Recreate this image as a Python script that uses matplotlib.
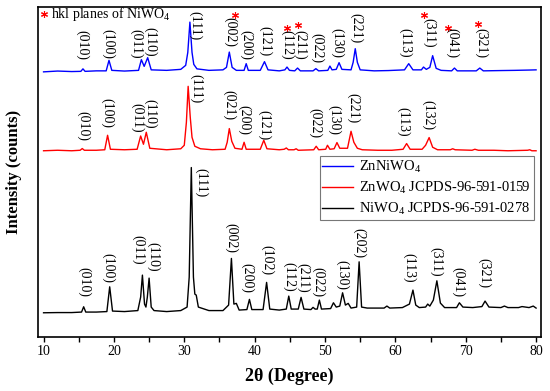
import matplotlib
matplotlib.use('Agg')
import matplotlib.pyplot as plt
from matplotlib.ticker import MultipleLocator

plt.rcParams['font.family'] = ['Liberation Serif', 'DejaVu Serif']
plt.rcParams['mathtext.fontset'] = 'custom'
plt.rcParams['mathtext.rm'] = 'Liberation Serif'
plt.rcParams['mathtext.it'] = 'Liberation Serif:italic'
plt.rcParams['mathtext.bf'] = 'Liberation Serif:bold'

# traced patterns (2theta in degree, intensity in arbitrary stacked units)
blue_x = [10.0, 12.0, 14.0, 15.3, 15.6, 15.9, 17.5, 18.9, 19.3, 19.7, 21.5, 23.5, 23.9, 24.3, 24.8, 25.3,
          27.5, 29.5, 30.2, 30.5, 30.8, 31.1, 31.35, 31.8, 33.5, 35.5, 36.0, 36.4, 36.8, 37.4, 38.5, 38.8,
          39.1, 40.8, 41.4, 41.9, 43.5, 44.3, 44.6, 44.95, 45.7, 46.1, 46.5, 48.3, 48.7, 49.1, 50.4, 50.7,
          51.0, 51.6, 52.0, 52.4, 53.7, 54.0, 54.3, 54.6, 55.0, 57.0, 59.0, 61.3, 61.9, 62.5, 63.7, 64.0,
          64.4, 64.9, 65.3, 65.8, 66.5, 68.0, 68.4, 68.8, 71.5, 72.0, 72.5, 75.0, 77.0, 79.0, 80.0]
blue_y = [265.5, 266.3, 265.8, 266, 268.5, 266, 266.5, 266.5, 277, 267, 266.3, 267, 277.7, 271, 279.7, 267.5,
          267, 268, 272, 285, 315.3, 285, 273, 268.5, 267, 267.5, 270, 285.3, 270, 267, 267, 273.7,
          267, 267, 275.7, 267.5, 266.5, 267.5, 270.3, 267, 266.5, 269.3, 266.5, 266.5, 268.7, 266.5, 267, 271.3,
          267.5, 268, 274.7, 268, 267.5, 275, 288.7, 275, 267.5, 266.5, 266.8, 267.5, 273.7, 267.5, 267.5, 270.3,
          268, 270, 281.7, 269, 267, 266.5, 269.3, 266.5, 266.5, 269.3, 266.5, 266.8, 267, 267.3, 267.5]

red_x = [10.0, 12.0, 14.0, 15.2, 15.5, 15.8, 17.5, 18.7, 19.1, 19.5, 21.5, 23.3, 23.8, 24.2, 24.6, 25.1,
         27.5, 29.5, 30.0, 30.3, 30.55, 30.85, 31.1, 31.5, 32.3, 34.0, 35.8, 36.1, 36.4, 36.75, 37.2, 38.2,
         38.5, 38.8, 40.8, 41.3, 41.75, 43.5, 44.2, 44.5, 44.8, 45.6, 45.9, 46.2, 48.4, 48.75, 49.1, 50.1,
         50.35, 50.7, 51.3, 51.7, 52.1, 53.2, 53.7, 54.1, 54.6, 55.3, 57.5, 59.5, 61.1, 61.6, 62.1, 63.8,
         64.3, 64.8, 65.3, 66.0, 67.8, 68.15, 68.5, 70.9, 71.3, 71.8, 74.0, 76.0, 78.8, 79.1, 79.4, 80.0]
red_y = [186.5, 187, 186.5, 187, 188.7, 187, 187, 187.5, 202, 188, 187.5, 188, 201.3, 193, 205, 189,
         187.5, 188.5, 192, 215, 251, 220, 200, 191, 188.5, 187.5, 188, 195, 208.7, 196, 189, 188,
         195, 188, 188, 197, 188.5, 187.5, 188, 189.3, 187.5, 187.5, 188.5, 187, 187.5, 191, 187.5, 188,
         192, 188, 188.5, 194.7, 189, 189, 206, 195, 189, 187.5, 187, 187, 188, 193.7, 188, 188,
         192, 199.7, 190, 187.5, 187.5, 188.5, 187.5, 187, 188, 187, 187, 186.5, 187, 187.5, 186.5, 186.5]

black_x = [10.0, 12.0, 14.0, 15.4, 15.7, 16.0, 17.5, 19.0, 19.4, 19.8, 21.5, 23.4, 23.8, 24.05, 24.35, 24.55,
           24.75, 25.0, 25.3, 25.7, 27.5, 29.5, 30.4, 30.7, 31.0, 31.3, 31.5, 31.7, 32.0, 33.5, 35.5, 36.3,
           36.7, 37.05, 37.4, 37.8, 38.9, 39.26, 39.6, 41.2, 41.7, 42.15, 43.5, 44.5, 44.85, 45.2, 46.2, 46.6,
           47.0, 48.0, 48.3, 48.6, 48.9, 49.2, 49.5, 50.8, 51.2, 51.6, 52.1, 52.5, 52.9, 53.3, 53.7, 54.5,
           54.85, 55.2, 56.0, 58.4, 58.8, 59.2, 61.0, 62.0, 62.5, 62.9, 63.4, 64.3, 64.6, 64.9, 65.4, 65.9,
           66.4, 67.0, 68.7, 69.1, 69.6, 71.0, 72.3, 72.75, 73.3, 75.0, 75.5, 76.0, 77.5, 78.0, 79.0, 79.6, 80.0]
black_y = [24.3, 24.5, 24.5, 25, 30.3, 25, 25, 25.5, 50.3, 26, 25.5, 26.5, 40, 62, 33, 30,
           40, 59, 30, 26.5, 25.5, 26.5, 30, 60, 169.7, 60, 43, 42, 30, 26.5, 26.5, 32,
           78.7, 33, 33.7, 27, 27.5, 37.7, 27.5, 27.5, 54.7, 28, 27, 28, 41, 28, 28, 39.7,
           28, 27.5, 29.7, 28, 28, 37, 28, 28.5, 34.3, 30, 31, 44.3, 32, 33.7, 29, 30,
           75.3, 30, 29, 29, 31, 29, 29.5, 33, 47, 32, 29.5, 30, 33, 31, 37, 56.3,
           34, 29.5, 29.5, 34.3, 30, 29.5, 30.5, 36, 30, 29.5, 31, 29.5, 29.5, 30.5, 29.5, 31, 29]

# hkl labels: text, 2theta, top of label
blue_labels = [('(010)', 15.45, 307), ('(100)', 19.15, 308), ('(011)', 23.17, 308), ('(110)', 25.16, 310),
               ('(111)', 31.6, 326), ('(002)', 36.52, 320), ('(200)', 38.79, 307), ('(121)', 41.45, 311),
               ('(112)', 44.57, 307), ('(211)', 46.46, 307), ('(022)', 48.84, 304), ('(130)', 51.68, 309),
               ('(221)', 54.38, 324), ('(113)', 61.38, 309), ('(311)', 64.83, 319), ('(041)', 68.1, 309),
               ('(321)', 72.19, 309)]
red_labels = [('(010)', 15.68, 226), ('(100)', 19.0, 239), ('(011)', 23.27, 234), ('(110)', 25.16, 238),
              ('(111)', 31.69, 263), ('(021)', 36.42, 247), ('(200)', 38.51, 232), ('(121)', 41.35, 227),
              ('(022)', 48.59, 229), ('(130)', 51.34, 232), ('(221)', 54.03, 244), ('(113)', 61.14, 230),
              ('(132)', 64.6, 237)]
black_labels = [('(010)', 15.74, 70), ('(100)', 19.15, 84), ('(011)', 23.41, 102), ('(110)', 25.63, 95),
                ('(111)', 32.4, 169), ('(002)', 36.66, 114), ('(200)', 38.89, 74), ('(102)', 41.73, 92),
                ('(112)', 44.86, 75), ('(211)', 46.85, 74), ('(022)', 49.06, 70), ('(130)', 52.39, 77),
                ('(202)', 54.89, 109), ('(113)', 61.99, 84), ('(311)', 65.74, 90), ('(041)', 68.95, 70),
                ('(321)', 72.64, 79)]
# NiWO4 planes marked with a red star
star_x = [37.15, 44.62, 46.18, 64.1, 67.5, 71.68]
star_y = [322, 309.5, 312.5, 322, 309.7, 313]

fig = plt.figure(figsize=(5.5, 3.91), dpi=100)
ax = fig.add_axes([0.0696, 0.138, 0.9134, 0.843])

ax.plot(blue_x, blue_y, color='#0000ff', lw=1.0, label='ZnNiWO$_4$')
ax.plot(red_x, red_y, color='#ff0000', lw=1.0, label='ZnWO$_4$ JCPDS-96-591-0159')
ax.plot(black_x, black_y, color='black', lw=1.0, label='NiWO$_4$ JCPDS-96-591-0278')

for labels in (blue_labels, red_labels, black_labels):
    for txt, x, y in labels:
        ax.text(x, y, txt, rotation=270, ha='center', va='top', fontsize=10)

ax.plot(star_x, star_y, linestyle='none', marker=(6, 2, 0), markersize=5,
        markeredgewidth=0.8, color='red')

ax.plot([10.1], [323.5], linestyle='none', marker=(6, 2, 0), markersize=5,
        markeredgewidth=0.8, color='red')
ax.text(11.1, 323, 'hkl planes of NiWO$_4$', ha='left', va='center', fontsize=10)

ax.set_xlim(9.25, 80.65)
ax.set_ylim(0, 330)
ax.set_yticks([])
ax.xaxis.set_major_locator(MultipleLocator(10))
ax.xaxis.set_minor_locator(MultipleLocator(5))
ax.tick_params(axis='x', which='both', direction='out', length=3.5, width=1, pad=2, labelsize=10)
for s in ax.spines.values():
    s.set_linewidth(1.2)

ax.set_xlabel('2θ (Degree)', fontsize=13, fontweight='bold', labelpad=7)
ax.set_ylabel('Intensity (counts)', fontsize=12, fontweight='bold', labelpad=12)

leg = ax.legend(loc='upper left', bbox_to_anchor=(319.5 / 550, 1 - 156 / 391),
                bbox_transform=fig.transFigure, fontsize=10.5, handlelength=2.1,
                handletextpad=0.4, labelspacing=0.35, borderpad=0.2, fancybox=False,
                framealpha=1, edgecolor='#777777', borderaxespad=0)
leg.get_frame().set_linewidth(0.8)

fig.savefig('out.png', dpi=100)
